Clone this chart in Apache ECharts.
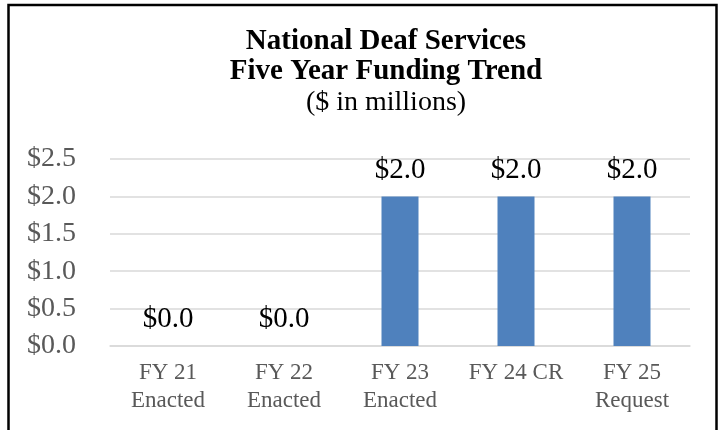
<!DOCTYPE html>
<html>
<head>
<meta charset="utf-8">
<script src="https://cdn.jsdelivr.net/npm/echarts@6/dist/echarts.min.js"></script>
<style>
html,body{margin:0;padding:0;background:#fff;}
#chart{width:720px;height:430px;}
</style>
</head>
<body>
<div id="chart"></div>
<script>
const categories = ["FY 21\nEnacted", "FY 22\nEnacted", "FY 23\nEnacted", "FY 24 CR", "FY 25\nRequest"];
const funding = [0.0, 0.0, 2.0, 2.0, 2.0];
const titleLines = ["National Deaf Services", "Five Year Funding Trend"];
const subtitle = "($ in millions)";

const serif = '"Liberation Serif", "Times New Roman", serif';
const chart = echarts.init(document.getElementById('chart'), null, {renderer: 'canvas'});
chart.setOption({
  backgroundColor: '#ffffff',
  animation: false,
  title: {
    text: titleLines.join('\n'),
    subtext: subtitle,
    left: 381,
    top: 22,
    textAlign: 'center',
    itemGap: 1,
    textStyle: {fontFamily: serif, fontWeight: 'bold', fontSize: 29, lineHeight: 30, color: '#000'},
    subtextStyle: {fontFamily: serif, fontSize: 28, lineHeight: 30, color: '#000'}
  },
  graphic: [{
    type: 'rect',
    shape: {x: 8.5, y: 5, width: 708, height: 440},
    style: {fill: 'none', stroke: '#000', lineWidth: 2.5},
    silent: true,
    z: 10
  }],
  grid: {left: 110, right: 30, top: 159, bottom: 84, containLabel: false},
  xAxis: {
    type: 'category',
    data: categories,
    axisLine: {show: true, lineStyle: {color: '#d9d9d9', width: 1.5}},
    axisTick: {show: false},
    axisLabel: {fontFamily: serif, fontSize: 23, lineHeight: 28, color: '#595959', margin: 13, interval: 0}
  },
  yAxis: {
    type: 'value',
    min: 0,
    max: 2.5,
    interval: 0.5,
    axisLine: {show: false},
    axisTick: {show: false},
    splitLine: {lineStyle: {color: '#d9d9d9', width: 1.5}},
    axisLabel: {fontFamily: serif, fontSize: 28, color: '#595959', margin: 34,
      formatter: v => '$' + v.toFixed(1)}
  },
  series: [{
    type: 'bar',
    data: funding,
    barWidth: 37,
    itemStyle: {color: '#4f81bd'},
    label: {
      show: true,
      position: 'top',
      distance: 12,
      fontFamily: serif,
      fontSize: 29,
      color: '#000',
      formatter: p => '$' + p.value.toFixed(1)
    }
  }]
});
</script>
</body>
</html>
